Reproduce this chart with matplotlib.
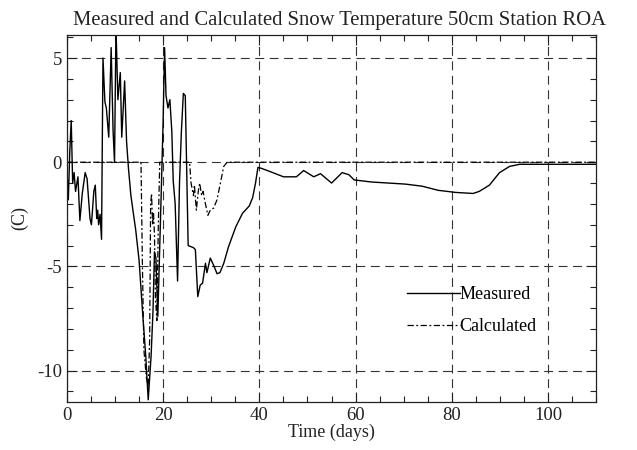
import matplotlib
matplotlib.use("Agg")
import matplotlib.pyplot as plt
from matplotlib.ticker import MultipleLocator

plt.rcParams['font.family'] = ['Liberation Serif', 'DejaVu Serif']
plt.rcParams['axes.unicode_minus'] = False

title = "Measured and Calculated Snow Temperature 50cm Station ROA"
xlabel = "Time (days)"
ylabel = "(C)"

meas_day = [0.0, 0.3, 0.6, 0.9, 1.2, 1.5, 1.8, 2.3, 2.7, 3.2, 3.8, 4.2, 4.8, 5.1, 5.6, 5.9,
            6.2, 6.4, 6.6, 6.9, 7.2, 7.5, 7.9, 8.2, 8.7, 9.2, 9.6, 9.9, 10.2, 10.6, 11.1,
            11.4, 12.0, 12.4, 12.8, 13.3, 14.3, 15.0, 15.7, 16.4, 16.9, 17.5, 17.9, 18.2,
            18.5, 18.9, 19.3, 19.6, 20.0, 20.3, 20.6, 21.0, 21.4, 21.8, 22.1, 22.5, 23.0,
            23.4, 23.8, 24.2, 24.6, 25.2, 26.3, 26.7, 27.2, 27.7, 28.2, 28.8, 29.1, 29.8,
            30.5, 31.2, 31.8, 32.6, 33.6, 35.1, 36.5, 37.9, 38.6, 39.2, 39.7, 40.5, 42.8,
            45.0, 47.7, 49.2, 51.3, 52.7, 55.0, 57.2, 58.6, 59.7, 63.3, 70.3, 73.8, 77.2,
            80.8, 84.4, 85.7, 87.8, 89.9, 92.0, 94.1, 110.0]
meas_val = [-0.3, -1.8, 0.5, 2.0, -1.0, -0.5, -1.4, -0.7, -2.8, -1.5, -0.5, -0.8, -2.7, -3.0,
            -1.4, -1.1, -2.7, -2.3, -3.0, -2.5, -3.7, 5.0, 2.9, 2.6, 1.2, 5.5, 1.5, 0.0, 6.5,
            3.0, 4.3, 1.2, 3.9, 1.0, -0.3, -1.6, -3.25, -4.7, -7.1, -9.35, -11.4, -9.3, -7.1,
            -4.3, -4.6, -7.4, -4.0, -1.5, 2.0, 5.5, 3.2, 2.6, 3.0, 1.5, -0.9, -2.0, -5.7,
            -1.0, 1.5, 3.3, 3.2, -4.0, -4.1, -4.2, -6.45, -5.9, -5.8, -4.85, -5.3, -4.6,
            -4.95, -5.35, -5.3, -4.85, -4.05, -3.1, -2.45, -2.1, -1.7, -1.0, -0.25, -0.3,
            -0.5, -0.7, -0.7, -0.4, -0.7, -0.55, -1.0, -0.5, -0.6, -0.85, -0.95, -1.05,
            -1.15, -1.35, -1.45, -1.5, -1.4, -1.1, -0.5, -0.2, -0.1, -0.1]

calc_day = [0.0, 15.4, 15.7, 16.0, 16.5, 16.9, 17.2, 17.4, 17.6, 17.8, 18.0, 18.2, 18.4,
            18.7, 19.0, 19.3, 25.5, 25.8, 26.3, 26.5, 26.9, 27.3, 27.6, 28.0, 28.3, 28.7,
            29.3, 29.8, 30.5, 31.2, 31.9, 32.6, 33.3, 110.0]
calc_val = [0.0, 0.0, -5.0, -9.0, -10.3, -10.8, -8.5, -2.0, -1.5, -3.0, -2.4, -3.5, -6.5,
            -7.6, -3.0, 0.0, 0.0, -1.0, -1.6, -1.1, -2.3, -1.4, -1.0, -1.6, -1.4, -1.9,
            -2.55, -2.3, -2.2, -1.8, -1.0, -0.2, 0.0, 0.0]

labels = ["Measured", "Calculated"]

fig = plt.figure(figsize=(6.37, 4.5), dpi=100)
ax = fig.add_axes([0.105, 0.107, 0.831, 0.815])

ax.plot(meas_day, meas_val, color='black', lw=1.0, ls='-', label=labels[0])
ax.plot(calc_day, calc_val, color='black', lw=0.9, ls=(0, (5, 2, 1.5, 2)), label=labels[1])

ax.set_xlim(0, 110)
ax.set_ylim(-11.5, 6.1)
ax.xaxis.set_major_locator(MultipleLocator(20))
ax.xaxis.set_minor_locator(MultipleLocator(5))
ax.yaxis.set_major_locator(MultipleLocator(5))
ax.yaxis.set_minor_locator(MultipleLocator(1))
ax.tick_params(which='both', direction='in', top=True, right=True, labelsize=13.5, colors='#222222')
ax.tick_params(which='major', length=7, width=0.8)
ax.tick_params(which='minor', length=4, width=0.8)
ax.grid(True, which='major', color='#333333', lw=0.8, ls=(0, (8, 5)))
for s in ax.spines.values():
    s.set_linewidth(0.9)
    s.set_color('#222222')

ax.set_title(title, fontsize=14.9, pad=7, color='#222222', x=0.515)
ax.set_xlabel(xlabel, fontsize=13, labelpad=0, color='#222222')
ax.set_ylabel(ylabel, fontsize=13, labelpad=6, color='#222222')

ax.legend(loc='upper left', bbox_to_anchor=(0.643, 0.316), frameon=False,
          handlelength=2.9, handletextpad=0.0, borderpad=0, borderaxespad=0,
          labelspacing=0.85, fontsize=13)

fig.savefig("out.png", dpi=100)
